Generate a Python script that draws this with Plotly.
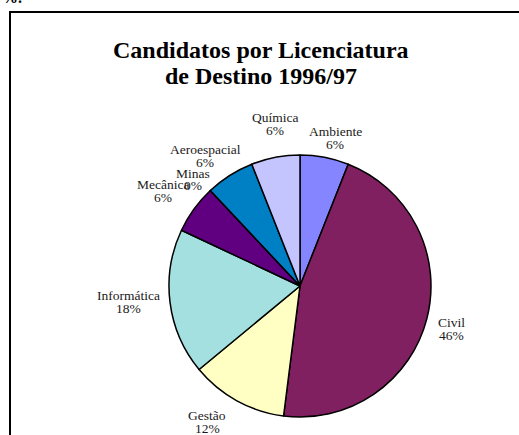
import plotly.graph_objects as go

W, H = 519, 435

categories = ["Ambiente", "Civil", "Gestão", "Informática", "Mecânica", "Minas", "Aeroespacial", "Química"]
values = [6, 46, 12, 18, 6, 0, 6, 6]
pct_labels = ["6%", "46%", "12%", "18%", "6%", "0%", "6%", "6%"]
colors = ["#8585FF", "#802060", "#FFFFC4", "#A4E0E0", "#600080", "#FF8080", "#0080C4", "#C4C4FF"]
title_lines = ["Candidatos por Licenciatura", "de Destino 1996/97"]

# label block centres in pixels (layout only)
label_pos = {
    "Ambiente": (335, 138),
    "Civil": (451, 328.5),
    "Gestão": (207, 421.5),
    "Informática": (128, 301.5),
    "Mecânica": (163, 190.5),
    "Minas": (193, 179.5),
    "Aeroespacial": (205, 156),
    "Química": (275, 124),
}
half_gap = 6.5

cx, cy, r = 300, 286, 131

fig = go.Figure(go.Pie(
    labels=categories,
    values=values,
    sort=False,
    direction="clockwise",
    rotation=0,
    marker=dict(colors=colors, line=dict(color="black", width=1.5)),
    textinfo="none",
    hoverinfo="label+percent",
    showlegend=False,
    domain=dict(x=[(cx - r) / W, (cx + r) / W], y=[(H - cy - r) / H, (H - cy + r) / H]),
))

lab_font = dict(family="Liberation Serif", size=13.5, color="#1a1a1a")
annotations = []
for cat, pct in zip(categories, pct_labels):
    px, py = label_pos[cat]
    for txt, yy in ((cat, py - half_gap), (pct, py + half_gap)):
        annotations.append(dict(
            x=px / W, y=1 - yy / H, xref="paper", yref="paper",
            text=txt, showarrow=False, font=lab_font,
            xanchor="center", yanchor="middle", borderpad=0,
        ))

for txt, yy in zip(title_lines, (50, 76)):
    annotations.append(dict(
        x=261 / W, y=1 - yy / H, xref="paper", yref="paper",
        text=f"<b>{txt}</b>", showarrow=False,
        font=dict(family="Liberation Serif", size=24, color="black"),
        xanchor="center", yanchor="middle", borderpad=0,
    ))

annotations.append(dict(
    x=0, y=1 - 7.5 / H, xref="paper", yref="paper",
    text="<b>%.</b>", showarrow=False,
    font=dict(family="Liberation Serif", size=16, color="black"),
    xanchor="left", yanchor="bottom",
))

fig.update_layout(
    width=W, height=H,
    margin=dict(l=0, r=0, t=0, b=0),
    paper_bgcolor="white", plot_bgcolor="white",
    annotations=annotations,
    shapes=[dict(
        type="rect", xref="paper", yref="paper",
        x0=10 / W, x1=1.05, y0=-0.05, y1=1 - 12 / H,
        line=dict(color="black", width=2), layer="below",
    )],
)

fig.write_html(
    "out.html",
    config={"displayModeBar": False},
    post_script="document.body.style.margin='0px';document.body.style.overflow='hidden';",
)
